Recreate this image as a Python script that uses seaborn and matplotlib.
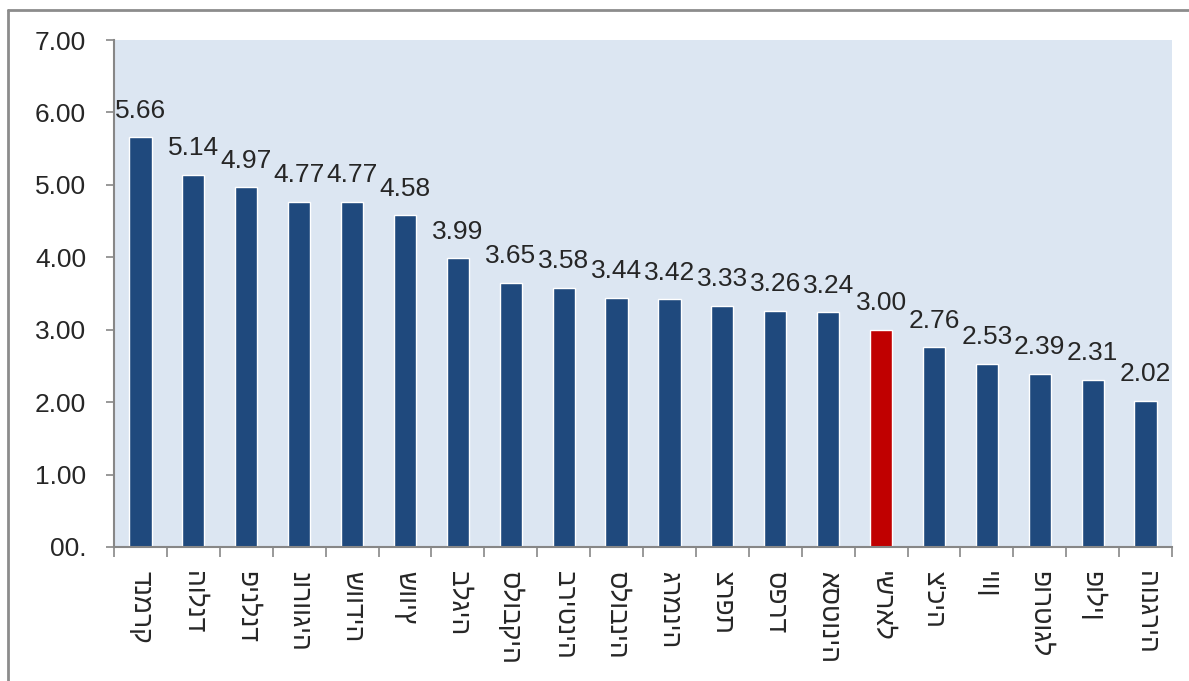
import matplotlib
matplotlib.use("Agg")
import matplotlib.pyplot as plt
import seaborn as sns
import pandas as pd
from matplotlib.lines import Line2D

# data
countries = ["דנמרק", "הולנד", "פינלנד", "נורווגיה", "שוודיה", "שוויץ", "בלגיה",
             "סלובקיה", "בריטניה", "סלובניה", "גרמניה", "צרפת", "ספרד", "אסטוניה",
             "ישראל", "צ'כיה", "יוון", "פורטוגל", "פולין", "הונגריה"]
values = [5.66, 5.14, 4.97, 4.77, 4.77, 4.58, 3.99, 3.65, 3.58, 3.44, 3.42,
          3.33, 3.26, 3.24, 3.00, 2.76, 2.53, 2.39, 2.31, 2.02]
highlight = "ישראל"
y_ticks = [0, 1, 2, 3, 4, 5, 6, 7]
y_tick_labels = ["00.", "1.00", "2.00", "3.00", "4.00", "5.00", "6.00", "7.00"]

df = pd.DataFrame({"country": countries, "value": values})
palette = {c: ("#C00000" if c == highlight else "#1F497D") for c in countries}

sns.set_style("white")
plt.rcParams["font.family"] = ["Liberation Sans", "DejaVu Sans"]

fig = plt.figure(figsize=(11.89, 6.81), dpi=100)
ax = fig.add_axes([114 / 1189, 1 - 547 / 681, (1172 - 114) / 1189, (547 - 40) / 681])
ax.set_facecolor("#DCE6F2")

sns.barplot(data=df, x="country", y="value", hue="country", palette=palette,
            width=0.42, saturation=1, legend=False, ax=ax)

# value labels above bars
for i, v in enumerate(values):
    ax.text(i, v + 0.2, f"{v:.2f}", ha="center", va="bottom", fontsize=19)

ax.set_ylim(0, 7)
ax.set_xlim(-0.5, len(countries) - 0.5)
ax.set_yticks(y_ticks)
ax.set_yticklabels(y_tick_labels, fontsize=19)
ax.set_xticks(range(len(countries)))
ax.set_xticklabels(countries, rotation=270, fontsize=19, va="top", ha="center")
ax.tick_params(axis="x", length=0, pad=17)
ax.tick_params(axis="y", length=6, width=1.2, color="#878787", pad=14, left=True)

# separator ticks between categories
ax.set_xticks([i - 0.5 for i in range(len(countries) + 1)], minor=True)
ax.tick_params(axis="x", which="minor", length=7, width=1.2, color="#878787", bottom=True)

for s in ["top", "right"]:
    ax.spines[s].set_visible(False)
for s in ["left", "bottom"]:
    ax.spines[s].set_color("#878787")
    ax.spines[s].set_linewidth(1.5)

ax.set_xlabel("")
ax.set_ylabel("")

# outer chart border (only top and left fall inside the image)
fig.add_artist(Line2D([8 / 1189, 1], [1 - 10 / 681, 1 - 10 / 681], color="#8C8C8C", lw=2,
                      transform=fig.transFigure))
fig.add_artist(Line2D([8 / 1189, 8 / 1189], [0, 1 - 10 / 681], color="#8C8C8C", lw=2,
                      transform=fig.transFigure))

fig.savefig("out.png", dpi=100)
